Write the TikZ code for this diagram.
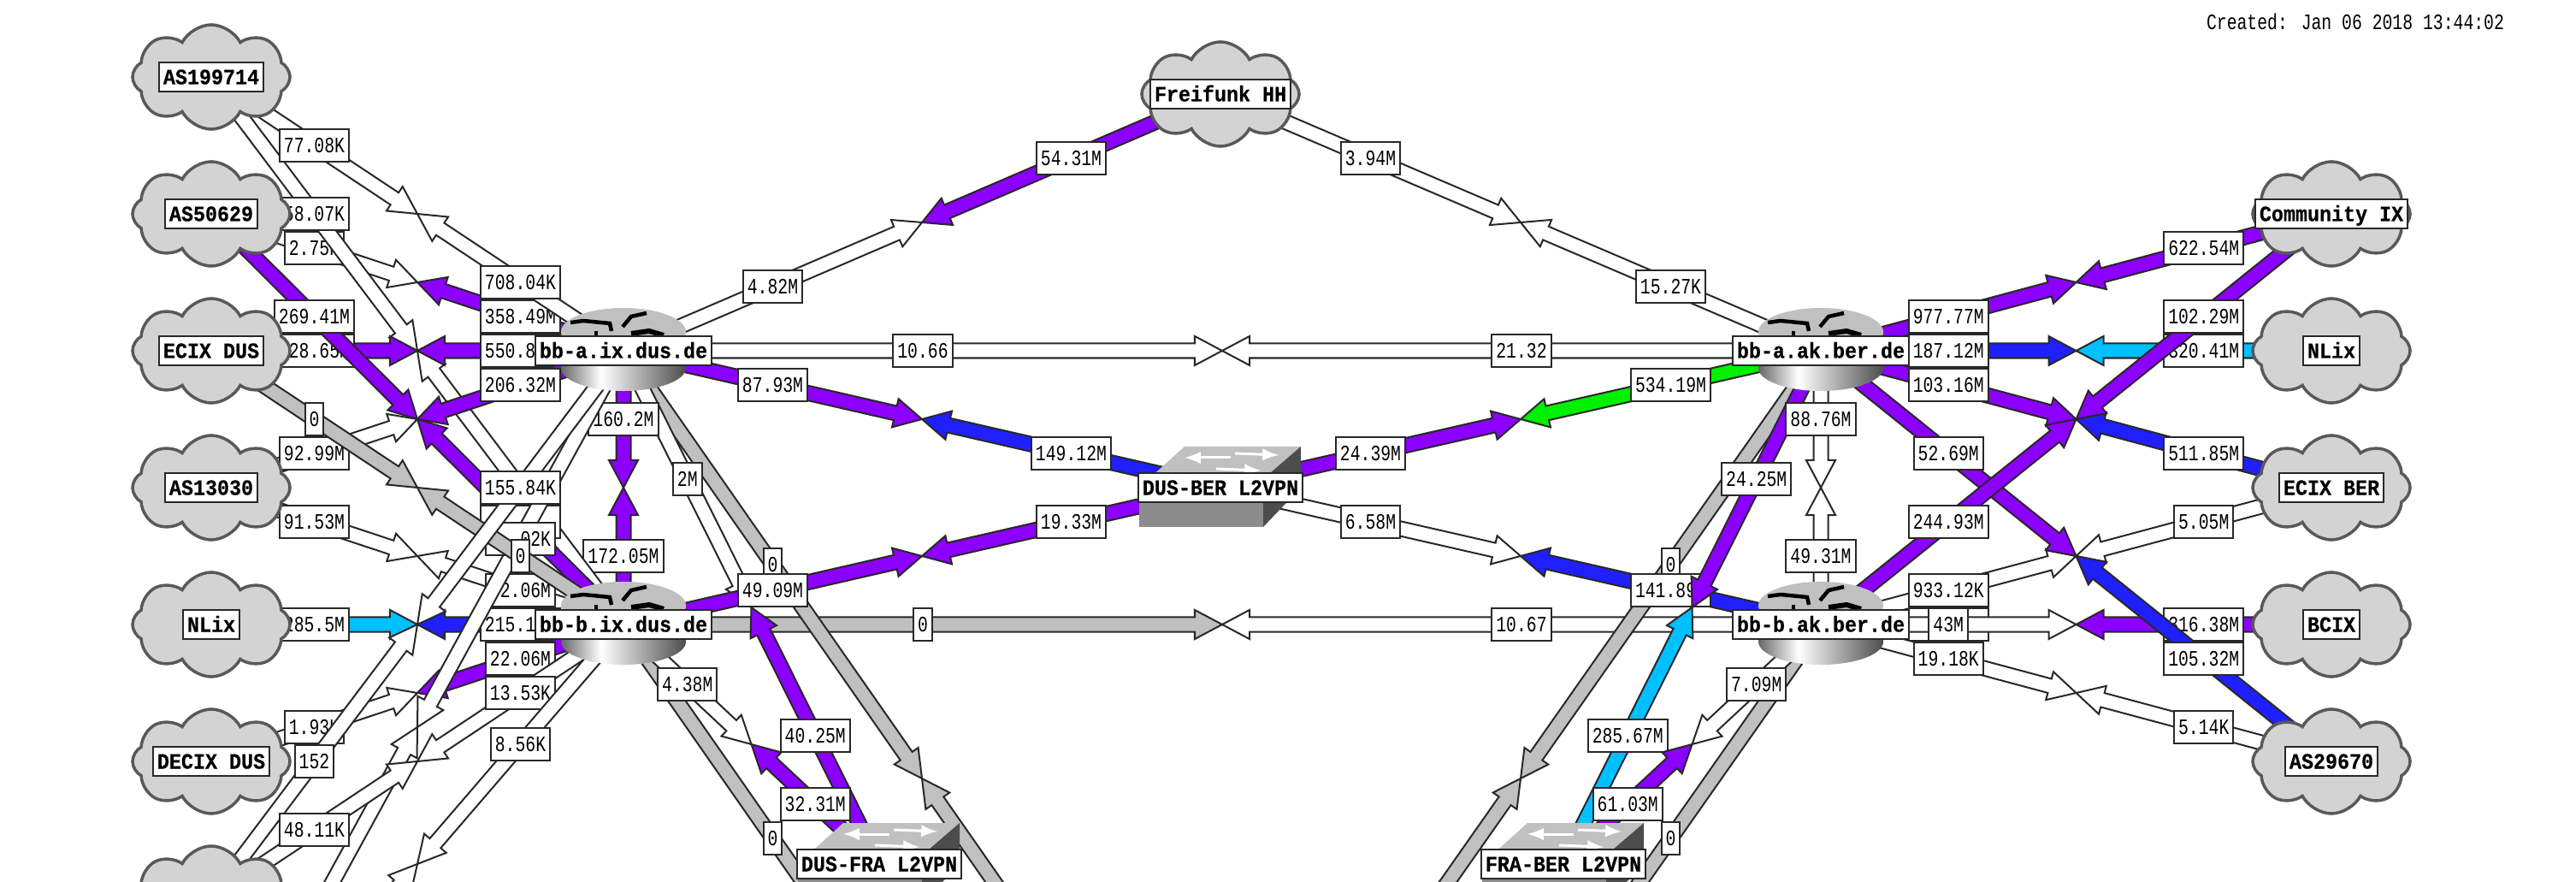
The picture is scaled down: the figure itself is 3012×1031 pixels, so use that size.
\documentclass[tikz,border=0pt]{standalone}
\usepackage{fontspec}
\usetikzlibrary{calc,shapes.symbols,backgrounds}
\newfontfamily\linkfont[FakeStretch=0.77]{Liberation Mono}
\newfontfamily\nodefont[FakeStretch=0.91,BoldFeatures={FakeBold=0.5}]{Liberation Mono}
\definecolor{wmpurple}{RGB}{140,0,255}
\definecolor{wmblue}{RGB}{32,32,255}
\definecolor{wmcyan}{RGB}{0,192,255}
\definecolor{wmgreen}{RGB}{0,240,0}
\definecolor{wmgrey}{RGB}{192,192,192}
\definecolor{cloudgrey}{RGB}{211,211,211}
\definecolor{wmline}{RGB}{40,40,40}
\pgfdeclarehorizontalshading{routerbody}{100bp}{color(0bp)=(black!60);color(25bp)=(black!60);color(41bp)=(white);color(75bp)=(black!70);color(100bp)=(black!70)}
\begin{document}
\begin{tikzpicture}[x=0.01cm,y=-0.01cm]
	\tikzstyle{cloudicon}=[cloud,cloud puffs=8,cloud puff arc=125,aspect=1.5,inner sep=0,minimum width=1.84cm,minimum height=1.22cm,draw=black!65,line width=0.035cm,fill=cloudgrey]
	\tikzstyle{nodebox}=[draw=wmline,fill=white,line width=0.02cm,inner xsep=0.05cm,inner ysep=0,minimum height=0.34cm,text height=0.17cm,text depth=0pt,font=\nodefont\fontsize{7.3}{7.3}\selectfont\bfseries]
	\tikzstyle{linkbox}=[draw=wmline,fill=white,line width=0.02cm,inner xsep=0.05cm,inner ysep=0,minimum height=0.38cm,text height=0.17cm,text depth=0pt,font=\linkfont\fontsize{7.3}{7.3}\selectfont]
	\tikzstyle{linkarrow}=[draw=wmline,line width=0.02cm,line join=miter]
	\useasboundingbox (0,0) rectangle (3012,1031);

	\node[font=\linkfont\fontsize{7.3}{7.3}\selectfont,inner sep=0] (created) at (2754,25) {Created: Jan 06 2018 13:44:02};

	\foreach \name/\x/\y/\txt in {asa/247/90/AS199714,asb/247/250/AS50629,ecixdus/247/410/ECIX DUS,asc/247/570/AS13030,nlixdus/247/730/NLix,decix/247/890/DECIX DUS,
			freifunk/1427/110/Freifunk HH,community/2726/250/Community IX,nlixber/2726/410/NLix,ecixber/2726/570/ECIX BER,bcix/2726/730/BCIX,astr/2726/890/AS29670} {
		\node[cloudicon] (\name) at (\x,\y) {};
		\node[nodebox] (\name-lbl) at (\x,\y) {\txt};
	}
	\node[cloudicon] (cloudlow) at (247,1050) {};

	\foreach \name/\x/\y/\txt in {bbaix/729/410/bb-a.ix.dus.de,bbbix/729/730/bb-b.ix.dus.de,bbaak/2129/410/bb-a.ak.ber.de,bbbak/2129/730/bb-b.ak.ber.de} {
		\begin{scope}[shift={(\x,\y)}]
			\fill[wmgrey] (0,-22) ellipse [x radius=0.73cm,y radius=0.28cm];
			\shade[shading=routerbody] (0,20) ellipse [x radius=0.73cm,y radius=0.27cm];
			\draw[line width=0.045cm] (-62,-33) -- (-47,-35) -- (-16,-32) -- (-14,-23);
			\draw[line width=0.045cm] (-32,-23) -- (-32,-17);
			\draw[line width=0.045cm] (-1,-28) -- (9,-40) -- (27,-44);
			\draw[line width=0.06cm] (9,-20) -- (30,-23) -- (47,-18);
		\end{scope}
		\node[nodebox] (\name) at (\x,\y) {\txt};
	}

	\foreach \name/\x/\y/\txt in {dusber/1427/570/DUS-BER L2VPN,dusfra/1028/1010/DUS-FRA L2VPN,fraber/1828/1010/FRA-BER L2VPN} {
		\begin{scope}[shift={(\x,\y)}]
			\fill[black!45] (-95,0) rectangle (50,46);
			\fill[wmgrey] (-42,-48) -- (94,-48) -- (50,0) -- (-95,0) -- cycle;
			\fill[black!70] (94,-48) -- (94,0) -- (50,46) -- (50,-10) -- cycle;
			\draw[white,line width=0.03cm,-latex] (12,-35) -- (-42,-35);
			\draw[white,line width=0.03cm,-latex] (17,-40) -- (68,-38);
			\draw[white,line width=0.03cm,-latex] (-5,-22) -- (47,-20);
		\end{scope}
		\node[nodebox] (\name) at (\x,\y) {\txt};
	}

	\coordinate (farcloud) at (247,1290);
	\coordinate (farA) at (1427,1410);
	\coordinate (farB) at (1427,1730);

	\begin{pgfonlayer}{background}
		\node[linkbox,minimum width=0.93cm] (hidden43) at (2278,730) {};
		\foreach \na/\nb/\ca/\cb/\la/\lb in {
				bbbix/bbbak/wmgrey/white/0/10.67,
				bbaix/bbaak/white/white/10.66/21.32,
				bbaix/farA/wmgrey/wmgrey/0/\phantom{0},
				bbbix/farB/wmgrey/wmgrey/0/\phantom{0},
				bbaak/farA/wmgrey/wmgrey/0/\phantom{0},
				bbbak/farB/wmgrey/wmgrey/0/\phantom{0},
				bbaix/freifunk/white/wmpurple/4.82M/54.31M,
				freifunk/bbaak/white/white/3.94M/15.27K,
				bbaix/dusber/wmpurple/wmblue/87.93M/149.12M,
				bbaak/dusber/wmgreen/wmpurple/534.19M/24.39M,
				bbaix/dusfra/white/wmpurple/2M/40.25M,
				bbbix/dusfra/white/wmpurple/4.38M/32.31M,
				bbbix/dusber/wmpurple/wmpurple/49.09M/19.33M,
				bbbak/dusber/wmblue/white/141.89\phantom{M}/6.58M,
				bbaak/fraber/wmpurple/wmcyan/24.25M/285.67M,
				bbbak/fraber/white/wmpurple/7.09M/61.03M,
				bbaak/bbbak/white/white/88.76M/49.31M,
				bbaix/bbbix/wmpurple/wmpurple/160.2M/172.05M,
				asb/bbaix/white/wmpurple/2.75K/358.49M,
				asa/bbbix/white/white/58.07K/\phantom{000000},
				asa/bbaix/white/white/77.08K/708.04K,
				ecixdus/bbaix/wmpurple/wmpurple/\phantom{0}28.65M/550.8\phantom{0M},
				asb/bbbix/wmpurple/wmpurple/269.41M/\phantom{0000000},
				asc/bbaix/white/wmpurple/92.99M/206.32M,
				asc/bbbix/white/white/91.53M/\phantom{0}2.06M,
				nlixdus/bbbix/wmcyan/wmblue/285.5M/215.1\phantom{0M},
				decix/bbbix/white/wmpurple/1.93K/22.06M,
				farcloud/bbaix/white/white/\phantom{0}/\phantom{00.}02K,
				ecixdus/bbbix/wmgrey/wmgrey/0/0,
				cloudlow/bbaix/white/white/152/155.84K,
				cloudlow/bbbix/white/white/48.11K/13.53K,
				farcloud/bbbix/white/white/\phantom{0}/8.56K,
				bbbak/bcix/white/wmpurple/43M/316.38M,
				bbaak/community/wmpurple/wmpurple/977.77M/622.54M,
				bbaak/nlixber/wmblue/wmcyan/187.12M/320.41M,
				bbaak/ecixber/wmpurple/wmblue/103.16M/511.85M,
				bbbak/ecixber/white/white/933.12K/5.05M,
				bbaak/astr/wmpurple/wmblue/52.69M/105.32M,
				bbbak/community/wmpurple/wmpurple/244.93M/102.29M,
				bbbak/astr/white/white/19.18K/5.14K} {
			\coordinate (mid) at ($(\na)!0.5!(\nb)$);
			\foreach \from/\col in {\na/\ca,\nb/\cb} {
				\coordinate (neck) at ($(mid)!0.32cm!(\from)$);
				\filldraw[linkarrow,fill=\col] ($(\from)!0.085cm!90:(mid)$) -- ($(neck)!0.085cm!90:(mid)$) -- ($(neck)!0.17cm!90:(mid)$) -- (mid)
					-- ($(neck)!0.17cm!-90:(mid)$) -- ($(neck)!0.085cm!-90:(mid)$) -- ($(\from)!0.085cm!-90:(mid)$) -- cycle;
			}
			\node[linkbox] (\na-\nb-a) at ($(\na)!0.25!(\nb)$) {\la};
			\node[linkbox] (\na-\nb-b) at ($(\na)!0.75!(\nb)$) {\lb};
		}
	\end{pgfonlayer}
\end{tikzpicture}
\end{document}
